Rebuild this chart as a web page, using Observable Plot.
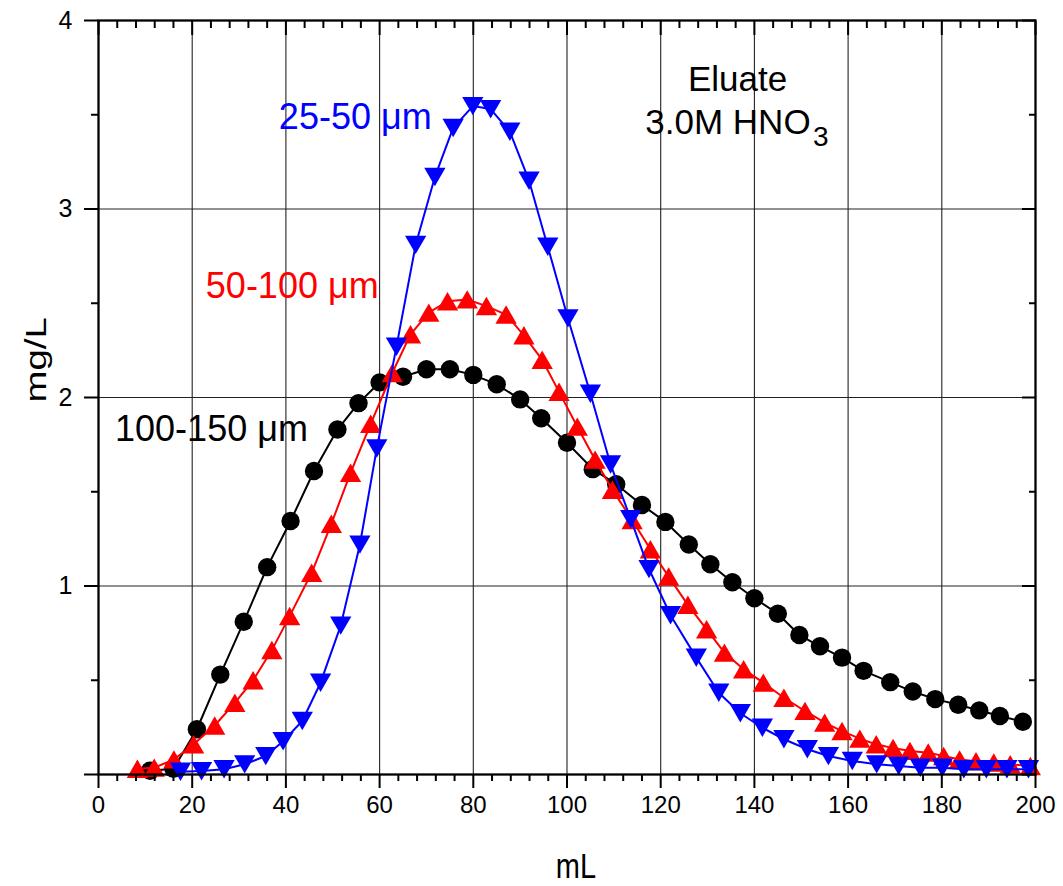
<!DOCTYPE html>
<html><head><meta charset="utf-8">
<script src="https://cdn.jsdelivr.net/npm/d3@7"></script>
<script src="https://cdn.jsdelivr.net/npm/@observablehq/plot@0.6"></script>
<style>body{margin:0;background:#fff}</style>
</head><body><div id="chart"></div>
<script>
// ---- data (mL, mg/L) ----
const blackX = [11, 16, 21, 26, 31, 36, 41, 46, 51, 55.5, 60, 65, 70, 75, 80, 85, 90, 94.5, 100, 105.5, 110.5, 116, 121, 126, 130.6, 135.3, 140, 145, 149.6, 154, 158.7, 163.3, 169, 173.8, 178.6, 183.5, 188, 192.4, 197.3];
const blackY = [0.02, 0.03, 0.24, 0.53, 0.81, 1.10, 1.345, 1.61, 1.83, 1.97, 2.08, 2.11, 2.15, 2.15, 2.12, 2.07, 1.99, 1.89, 1.76, 1.62, 1.54, 1.43, 1.34, 1.22, 1.115, 1.02, 0.935, 0.853, 0.74, 0.68, 0.62, 0.55, 0.49, 0.44, 0.40, 0.37, 0.34, 0.31, 0.28];

const redX = [8.3, 11.9, 16.1, 20.3, 24.8, 29.1, 33.0, 37.0, 40.8, 45.5, 49.7, 53.8, 58.1, 62.7, 66.6, 70.5, 74.5, 78.7, 82.8, 87.0, 90.8, 94.7, 98.3, 102.2, 106.0, 109.7, 113.9, 117.8, 121.7, 125.8, 129.8, 133.6, 137.7, 141.9, 146.3, 150.8, 155.0, 158.7, 162.5, 166.0, 169.6, 173.2, 177.1, 180.4, 183.8, 187.3, 191.1, 194.6, 198.9];
const redY = [0.03, 0.036, 0.08, 0.16, 0.26, 0.38, 0.50, 0.66, 0.84, 1.07, 1.33, 1.60, 1.86, 2.13, 2.335, 2.45, 2.51, 2.52, 2.485, 2.44, 2.33, 2.20, 2.03, 1.845, 1.67, 1.51, 1.35, 1.195, 1.05, 0.90, 0.77, 0.646, 0.558, 0.487, 0.407, 0.337, 0.275, 0.23, 0.19, 0.16, 0.14, 0.125, 0.116, 0.098, 0.08, 0.07, 0.063, 0.054, 0.045];

const blueX = [17.5, 22, 26.8, 31.2, 35.7, 39.4, 43.5, 47.4, 51.7, 55.8, 59.4, 63.6, 67.7, 71.8, 75.7, 79.9, 83.7, 87.8, 91.9, 95.9, 100.2, 105.0, 109.3, 113.6, 117.5, 122.1, 127.6, 132.4, 137.0, 141.7, 146.3, 151.3, 155.8, 160.9, 166.1, 170.8, 175.4, 180.1, 184.7, 189.5, 193.9, 198.5];
const blueY = [0.015, 0.018, 0.028, 0.054, 0.098, 0.177, 0.284, 0.487, 0.79, 1.22, 1.73, 2.27, 2.81, 3.17, 3.43, 3.546, 3.53, 3.41, 3.15, 2.80, 2.42, 2.02, 1.645, 1.355, 1.09, 0.845, 0.62, 0.434, 0.325, 0.248, 0.187, 0.134, 0.098, 0.072, 0.054, 0.045, 0.036, 0.036, 0.028, 0.028, 0.028, 0.028];

// ---- ticks ----
const xMajor = [0, 20, 40, 60, 80, 100, 120, 140, 160, 180, 200];
const xMinor = d3.range(0, 201, 4).filter(v => v % 20 !== 0);
const yMajor = [0, 1, 2, 3, 4];
const yMinor = [0.5, 1.5, 2.5, 3.5];
const xGrid = [20, 40, 60, 80, 100, 120, 140, 160, 180];
const yGrid = [1, 2, 3];

// ---- annotations ----
const seriesLabels = ["25-50 μm", "50-100 μm", "100-150 μm"];
const seriesLabelX = [38.5, 59.8, 44.7];
const seriesLabelY = [3.424, 2.528, 1.769];
const seriesLabelColor = ["#0000ff", "#ff0000", "#000000"];
const seriesLabelAnchor = ["start", "end", "end"];
const eluateLines = ["Eluate", "3.0M HNO", "3"];
const eluateX = [136.4, 152.0, 152.5];
const eluateY = [3.626, 3.398, 3.334];

const toRows = (xs, ys) => xs.map((x, i) => ({x, y: ys[i]}));
const black = toRows(blackX, blackY);
const red = toRows(redX, redY);
const blue = toRows(blueX, blueY);
const labels = seriesLabels.map((t, i) => ({t, x: seriesLabelX[i], y: seriesLabelY[i], c: seriesLabelColor[i], a: seriesLabelAnchor[i]}));
const eluate = eluateLines.map((t, i) => ({t, x: eluateX[i], y: eluateY[i]}));

const blank = () => "";
const font = "'Liberation Sans', Arial, Helvetica, sans-serif";

const chart = Plot.plot({
  width: 1063, height: 886,
  marginLeft: 98, marginRight: 28, marginTop: 20, marginBottom: 112,
  style: {fontFamily: font, background: "#fff", color: "#000"},
  x: {domain: [0, 200]},
  y: {domain: [0, 4]},
  marks: [
    Plot.ruleX(xGrid, {stroke: "#222", strokeWidth: 1.1}),
    Plot.ruleY(yGrid, {stroke: "#222", strokeWidth: 1.1}),

    Plot.line(black, {x: "x", y: "y", stroke: "#000", strokeWidth: 2}),
    Plot.dot(black, {x: "x", y: "y", r: 9.2, fill: "#000", stroke: null}),
    Plot.line(red, {x: "x", y: "y", stroke: "#ff0000", strokeWidth: 2}),
    Plot.dot(red, {x: "x", y: "y", r: 7.9, symbol: "triangle", fill: "#ff0000", stroke: null, dy: 3}),
    Plot.line(blue, {x: "x", y: "y", stroke: "#0000ff", strokeWidth: 2}),
    Plot.dot(blue, {x: "x", y: "y", r: 7.9, symbol: "triangle", rotate: 180, fill: "#0000ff", stroke: null, dy: -3}),

    Plot.frame({stroke: "#000", strokeWidth: 2.3}),

    // bottom axis
    Plot.axisX(xMajor, {anchor: "bottom", tickSize: 14, tickPadding: 7.5, fontSize: 24, strokeWidth: 2, label: null, fill: "#000", ariaLabel: "x-major"}),
    Plot.axisX(xMinor, {anchor: "bottom", tickSize: 7, tickFormat: blank, strokeWidth: 2, label: null}),
    // top axis (inward)
    Plot.axisX(xMajor, {anchor: "top", tickSize: -14, tickFormat: blank, strokeWidth: 2, label: null}),
    Plot.axisX(xMinor, {anchor: "top", tickSize: -7, tickFormat: blank, strokeWidth: 2, label: null}),
    // left axis
    Plot.axisY(yMajor, {anchor: "left", tickSize: 14, tickPadding: 12, fontSize: 25, strokeWidth: 2, label: null, fill: "#000", tickFormat: d => d === 0 ? "" : String(d)}),
    Plot.axisY(yMinor, {anchor: "left", tickSize: 7, tickFormat: blank, strokeWidth: 2, label: null}),
    // right axis (inward)
    Plot.axisY(yMajor, {anchor: "right", tickSize: -14, tickFormat: blank, strokeWidth: 2, label: null}),
    Plot.axisY(yMinor, {anchor: "right", tickSize: -7, tickFormat: blank, strokeWidth: 2, label: null}),

    // axis titles
    Plot.text(["mL"], {text: d => d, frameAnchor: "bottom", dx: 9, dy: 103, lineAnchor: "bottom", fontSize: 29, fill: "#000", className: "stretch-v"}),
    Plot.text(["mg/L"], {text: d => d, frameAnchor: "left", dx: -53, dy: 5, rotate: -90, lineAnchor: "bottom", fontSize: 30, fill: "#000", className: "stretch-h"}),

    // series labels
    Plot.text(labels.filter(d => d.a === "start"), {x: "x", y: "y", text: "t", fill: "c", textAnchor: "start", lineAnchor: "bottom", fontSize: 36}),
    Plot.text(labels.filter(d => d.a === "end"), {x: "x", y: "y", text: "t", fill: "c", textAnchor: "end", lineAnchor: "bottom", fontSize: 36}),

    // eluate annotation
    Plot.text(eluate.slice(0, 1), {x: "x", y: "y", text: "t", textAnchor: "middle", lineAnchor: "bottom", fontSize: 35, fill: "#000"}),
    Plot.text(eluate.slice(1, 2), {x: "x", y: "y", text: "t", textAnchor: "end", lineAnchor: "bottom", fontSize: 35, fill: "#000"}),
    Plot.text(eluate.slice(2, 3), {x: "x", y: "y", text: "t", textAnchor: "start", lineAnchor: "bottom", fontSize: 28, fill: "#000"})
  ]
});

// Stretch the x tick labels and axis titles as in the reference
function stretch(sel, sx, sy) {
  sel.each(function () {
    const t = d3.select(this);
    const tr = t.attr("transform");
    if (tr) {
      t.attr("transform", tr + ` scale(${sx},${sy})`);
    } else {
      const x = +t.attr("x") || 0, y = +t.attr("y") || 0;
      t.attr("x", null).attr("y", null).attr("transform", `translate(${x},${y}) scale(${sx},${sy})`);
    }
  });
}
const svg = d3.select(chart);
stretch(svg.selectAll("g[aria-label='x-major'] text"), 1, 1.2);
stretch(svg.selectAll("g.stretch-v text, .stretch-v text"), 1, 1.2);
stretch(svg.selectAll("g.stretch-h text, .stretch-h text"), 1.28, 1);

document.getElementById("chart").append(chart);
</script>
</body></html>
